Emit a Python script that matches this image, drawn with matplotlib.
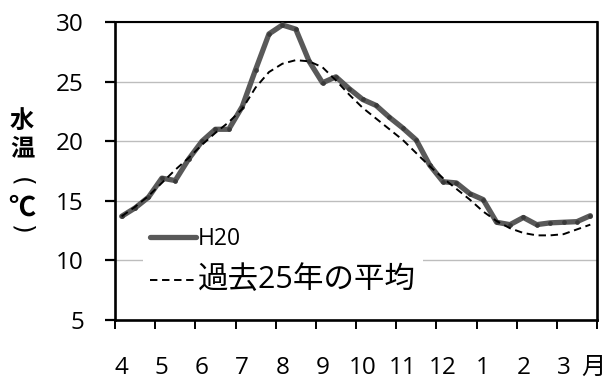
import numpy as np
import matplotlib
matplotlib.use("Agg")
import matplotlib.pyplot as plt
from matplotlib.font_manager import FontProperties
from matplotlib.textpath import TextPath

plt.rcParams['font.family'] = ['Open Sans', 'Noto Sans CJK JP', 'DejaVu Sans']

# 旬別水温（4月上旬〜3月下旬、36旬）
temp_h20 = [13.7, 14.4, 15.3, 16.9, 16.7, 18.5, 20.0, 21.0, 21.0,
            22.9, 26.0, 29.0, 29.75, 29.4, 26.7, 24.9, 25.4, 24.4,
            23.5, 23.0, 22.0, 21.1, 20.1, 18.0, 16.6, 16.5, 15.6,
            15.1, 13.2, 13.0, 13.6, 13.0, 13.15, 13.2, 13.25, 13.75]
temp_avg25 = [13.7, 14.5, 15.4, 16.5, 17.6, 18.6, 19.7, 20.7, 21.6,
              22.7, 24.5, 25.8, 26.5, 26.8, 26.7, 26.2, 25.1, 23.9,
              22.8, 21.9, 21.0, 20.1, 19.0, 17.9, 16.9, 16.0, 15.1,
              14.1, 13.3, 12.7, 12.3, 12.1, 12.1, 12.2, 12.6, 13.0]
month_labels = ['4', '5', '6', '7', '8', '9', '10', '11', '12', '1', '2', '3']
unit_label = '月'
series_names = ['H20', '過去25年の平均']
y_ticks = [5, 10, 15, 20, 25, 30]
y_title = ['水', '温', '(', '℃', ')']

W, H = 607, 381
DPI = 100
fig = plt.figure(figsize=(W / DPI, H / DPI), dpi=DPI)
ax = fig.add_axes([115 / W, 1 - 320 / H, 482 / W, 298 / H])

# each 旬 sits in the middle of its third of the month
x = (np.arange(len(temp_h20)) + 0.5) / 3

ax.plot(x, temp_h20, color='#595959', lw=3.8, solid_joinstyle='round',
        solid_capstyle='round', label=series_names[0], zorder=3)
ax.plot(x, temp_h20, ls='none', marker='o', ms=2.4, color='#3a3a3a', zorder=4)
ax.plot(x, temp_avg25, color='black', lw=1.4, ls=(0, (3.8, 2.4)),
        label=series_names[1], zorder=5)

ax.set_xlim(0, 12)
ax.set_ylim(5, 30)
ax.set_yticks(y_ticks)
ax.set_xticks(range(13))
ax.set_xticklabels([])
ax.set_xticks(list(np.arange(12) + 1 / 6) + [11.9], minor=True)
ax.set_xticklabels(month_labels + [unit_label], minor=True)
ax.get_xticklabels(minor=True)[-1].set_fontsize(14.5)

ax.tick_params(axis='x', which='major', direction='out', length=6.5, width=1.4,
               color='black')
ax.tick_params(axis='x', which='minor', length=0, pad=26, labelsize=17.5)
ax.tick_params(axis='y', direction='out', length=7.5, width=1.6, pad=15,
               labelsize=17.5, color='black')

ax.yaxis.grid(True, color='#bdbdbd', lw=1.0)
ax.set_axisbelow(True)
for side, sp in ax.spines.items():
    sp.set_color('black')
    sp.set_linewidth(1.5 if side == 'top' else 1.9)

# vertical axis title: one glyph per line, each centred on its own ink box;
# the brackets are turned a quarter clockwise as in vertical writing
cjk_prop = FontProperties(family='Noto Sans CJK JP', weight='bold')
paren_prop = FontProperties(family='DejaVu Sans', weight='normal')
title_sizes = [17.5, 17.5, 18, 19.5, 18]
title_centres = [119, 146, 182, 205, 230]   # pixel rows from the top
XC = 22
for ch, yc, fs in zip(y_title, title_centres, title_sizes):
    prop = paren_prop if ch in '()' else cjk_prop
    ext = TextPath((0, 0), ch, size=fs, prop=prop).get_extents()
    cx = (ext.x0 + ext.x1) / 2 * DPI / 72
    cy = (ext.y0 + ext.y1) / 2 * DPI / 72
    if ch in '()':
        # clockwise quarter turn about the baseline anchor: (px, py) -> (py, -px)
        ax_x, ax_y = XC - cy, (H - yc) + cx
        fig.text(ax_x / W, ax_y / H, ch, ha='left', va='baseline',
                 rotation=-90, rotation_mode='anchor', fontsize=fs,
                 fontproperties=prop)
    else:
        fig.text((XC - cx) / W, 1 - yc / H - cy / H, ch, ha='left',
                 va='baseline', fontsize=fs, fontproperties=prop)

leg = ax.legend(loc='center left', bbox_to_anchor=(0.058, 0.198),
                frameon=True, facecolor='white', edgecolor='none', framealpha=1,
                fontsize=16.5, handlelength=2.0, handletextpad=0.1,
                borderpad=0.3, labelspacing=0.62, borderaxespad=0)
leg.get_texts()[1].set_fontsize(22)

fig.savefig('out.png', dpi=DPI)
